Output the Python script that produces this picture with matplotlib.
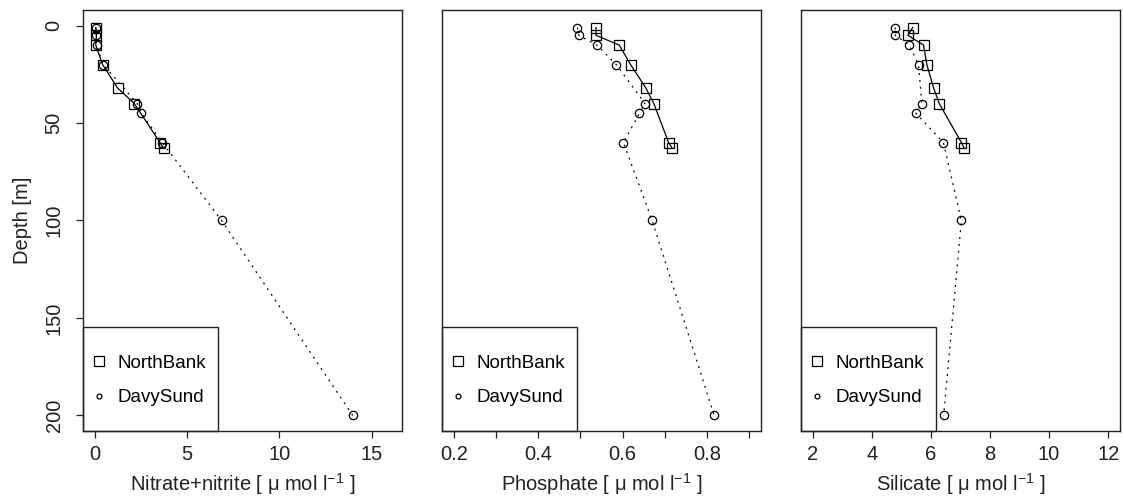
import matplotlib
matplotlib.use("Agg")
import matplotlib.pyplot as plt
from matplotlib.lines import Line2D
from matplotlib.patches import Rectangle

plt.rcParams['font.family'] = ['Liberation Sans', 'DejaVu Sans']
plt.rcParams['mathtext.fontset'] = 'custom'
plt.rcParams['mathtext.rm'] = 'Liberation Sans'
plt.rcParams['mathtext.it'] = 'Liberation Sans:italic'

# depths (m)
nb_depth = [1, 5, 10, 20, 32, 40, 60, 63]
ds_depth = [1, 5, 10, 20, 40, 45, 60, 100, 200]

# NorthBank
nb_nitrate = [0.05, 0.09, 0.05, 0.42, 1.23, 2.14, 3.53, 3.73]
nb_phosphate = [0.537, 0.537, 0.592, 0.619, 0.655, 0.674, 0.709, 0.718]
nb_silicate = [5.38, 5.22, 5.75, 5.86, 6.09, 6.28, 7.03, 7.13]

# DavySund
ds_nitrate = [0.05, 0.08, 0.10, 0.45, 2.30, 2.52, 3.65, 6.87, 13.97]
ds_phosphate = [0.493, 0.496, 0.539, 0.585, 0.653, 0.640, 0.602, 0.670, 0.817]
ds_silicate = [4.79, 4.79, 5.26, 5.58, 5.69, 5.49, 6.42, 7.03, 6.43]

panels = [
    ("Nitrate+nitrite", nb_nitrate, ds_nitrate, (0, 16), [0, 5, 10, 15], ["0", "5", "10", "15"]),
    ("Phosphate", nb_phosphate, ds_phosphate, (0.2, 0.9),
     [0.2, 0.3, 0.4, 0.5, 0.6, 0.7, 0.8, 0.9], ["0.2", "", "0.4", "", "0.6", "", "0.8", ""]),
    ("Silicate", nb_silicate, ds_silicate, (2, 12), [2, 4, 6, 8, 10, 12], ["2", "4", "6", "8", "10", "12"]),
]

W, H = 1123, 498
fig = plt.figure(figsize=(W / 100, H / 100), dpi=100)
lefts = [83, 442, 801]
top, bottom = 10, 431
pw = 319

for i, (name, nbx, dsx, xl, ticks, tlabels) in enumerate(panels):
    ax = fig.add_axes([lefts[i] / W, 1 - bottom / H, pw / W, (bottom - top) / H])
    ax.plot(nbx, nb_depth, color='black', lw=0.9, marker='s', ms=7.5, mfc='none', mec='black', mew=0.9)
    ax.plot(dsx, ds_depth, color='black', lw=0.9, dashes=(1.5, 4), marker='o', ms=6, mfc='none', mec='black', mew=0.9)
    d = (xl[1] - xl[0]) * 0.04
    ax.set_xlim(xl[0] - d, xl[1] + d)
    ax.set_ylim(208, -8)
    ax.set_xticks(ticks)
    ax.set_xticklabels(tlabels)
    ax.tick_params(axis='x', direction='out', length=5, width=0.9, labelsize=14.5, pad=5, colors='#222222')
    for s in ax.spines.values():
        s.set_linewidth(1.0)
        s.set_color('#222222')
    ax.set_xlabel(name + r" [ μ mol l$^{-1}$ ]", fontsize=14.5, labelpad=5.5, color='#222222')
    if i == 0:
        ax.set_yticks([0, 50, 100, 150, 200])
        ax.set_yticklabels(["0", "50", "100", "150", "200"], rotation=90, va='center')
        ax.tick_params(axis='y', direction='out', length=5, width=0.9, labelsize=14.5, pad=9, colors='#222222')
        ax.set_ylabel("Depth [m]", fontsize=14.5, labelpad=9, color='#222222')
    else:
        ax.set_yticks([])

    # legend box
    ax.add_patch(Rectangle((0, 0), 135 / pw, (bottom - 326.7) / (bottom - top), transform=ax.transAxes,
                           fill=False, edgecolor='#222222', lw=1.0, clip_on=False, zorder=5))
    handles = [
        Line2D([], [], ls='none', marker='s', ms=6.5, mfc='none', mec='black', mew=0.9),
        Line2D([], [], ls='none', marker='o', ms=3.5, mfc='none', mec='black', mew=0.9),
    ]
    ax.legend(handles, ["NorthBank", "DavySund"], loc='center left', bbox_to_anchor=(0.022, 0.12),
              frameon=False, fontsize=13.5, borderpad=0, handlelength=1.0, handletextpad=0.48,
              labelspacing=0.92, borderaxespad=0)

fig.savefig("out.png", dpi=100)
